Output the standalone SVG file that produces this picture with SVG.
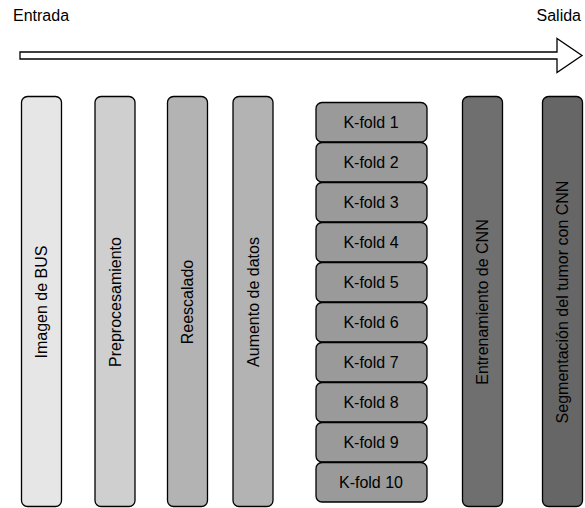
<svg xmlns="http://www.w3.org/2000/svg" width="585" height="508" viewBox="0 0 585 508">
  <style>
    .box { stroke: #000; stroke-width: 1.3; }
    .lbl { font-family: "Liberation Sans", Arial, sans-serif; font-size: 16px; fill: #000; text-anchor: middle; dominant-baseline: central; }
    .cap { font-family: "Liberation Sans", Arial, sans-serif; font-size: 16px; fill: #000; }
  </style>
  <rect width="585" height="508" fill="#fff"/>

  <!-- flow direction arrow -->
  <g id="flow-arrow">
    <text class="cap" x="13" y="21">Entrada</text>
    <text class="cap" x="581" y="21" text-anchor="end">Salida</text>
    <path d="M20 52 H557 V38.5 L582 55.5 L557 72.5 V59 H20 Z" fill="#fff" stroke="#000" stroke-width="1.3"/>
  </g>

  <!-- pipeline stages -->
  <g id="imagen-bus">
    <rect class="box" x="21.5" y="96.5" width="40" height="410" rx="6" fill="#e6e6e6"/>
    <text class="lbl" transform="translate(41.5 302) rotate(-90)">Imagen de BUS</text>
  </g>
  <g id="preprocesamiento">
    <rect class="box" x="95" y="96.5" width="40" height="410" rx="6" fill="#cfcfcf"/>
    <text class="lbl" transform="translate(115 302) rotate(-90)">Preprocesamiento</text>
  </g>
  <g id="reescalado">
    <rect class="box" x="167.5" y="96.5" width="40" height="410" rx="6" fill="#b3b3b3"/>
    <text class="lbl" transform="translate(187.5 302) rotate(-90)">Reescalado</text>
  </g>
  <g id="aumento">
    <rect class="box" x="233" y="96.5" width="40" height="410" rx="6" fill="#b3b3b3"/>
    <text class="lbl" transform="translate(253 302) rotate(-90)">Aumento de datos</text>
  </g>

  <!-- cross-validation folds -->
  <g id="kfolds">
    <g id="kfold-1"><rect class="box" x="316" y="102.5" width="111" height="39.5" rx="6" fill="#9a9a9a"/><text class="lbl" x="371" y="122.3">K-fold 1</text></g>
    <g id="kfold-2"><rect class="box" x="316" y="142.5" width="111" height="39.5" rx="6" fill="#9a9a9a"/><text class="lbl" x="371" y="162.3">K-fold 2</text></g>
    <g id="kfold-3"><rect class="box" x="316" y="182.5" width="111" height="39.5" rx="6" fill="#9a9a9a"/><text class="lbl" x="371" y="202.3">K-fold 3</text></g>
    <g id="kfold-4"><rect class="box" x="316" y="222.5" width="111" height="39.5" rx="6" fill="#9a9a9a"/><text class="lbl" x="371" y="242.3">K-fold 4</text></g>
    <g id="kfold-5"><rect class="box" x="316" y="262.5" width="111" height="39.5" rx="6" fill="#9a9a9a"/><text class="lbl" x="371" y="282.3">K-fold 5</text></g>
    <g id="kfold-6"><rect class="box" x="316" y="302.5" width="111" height="39.5" rx="6" fill="#9a9a9a"/><text class="lbl" x="371" y="322.3">K-fold 6</text></g>
    <g id="kfold-7"><rect class="box" x="316" y="342.5" width="111" height="39.5" rx="6" fill="#9a9a9a"/><text class="lbl" x="371" y="362.3">K-fold 7</text></g>
    <g id="kfold-8"><rect class="box" x="316" y="382.5" width="111" height="39.5" rx="6" fill="#9a9a9a"/><text class="lbl" x="371" y="402.3">K-fold 8</text></g>
    <g id="kfold-9"><rect class="box" x="316" y="422.5" width="111" height="39.5" rx="6" fill="#9a9a9a"/><text class="lbl" x="371" y="442.3">K-fold 9</text></g>
    <g id="kfold-10"><rect class="box" x="316" y="462.5" width="111" height="39.5" rx="6" fill="#9a9a9a"/><text class="lbl" x="371" y="482.3">K-fold 10</text></g>
  </g>

  <g id="entrenamiento">
    <rect class="box" x="462.5" y="96.5" width="40" height="410" rx="6" fill="#6f6f6f"/>
    <text class="lbl" transform="translate(482.5 302) rotate(-90)">Entrenamiento de CNN</text>
  </g>
  <g id="segmentacion">
    <rect class="box" x="542.5" y="96.5" width="40" height="410" rx="6" fill="#666666"/>
    <text class="lbl" transform="translate(562.5 302) rotate(-90)">Segmentación del tumor con CNN</text>
  </g>

  <g id="connectors"/>
</svg>
